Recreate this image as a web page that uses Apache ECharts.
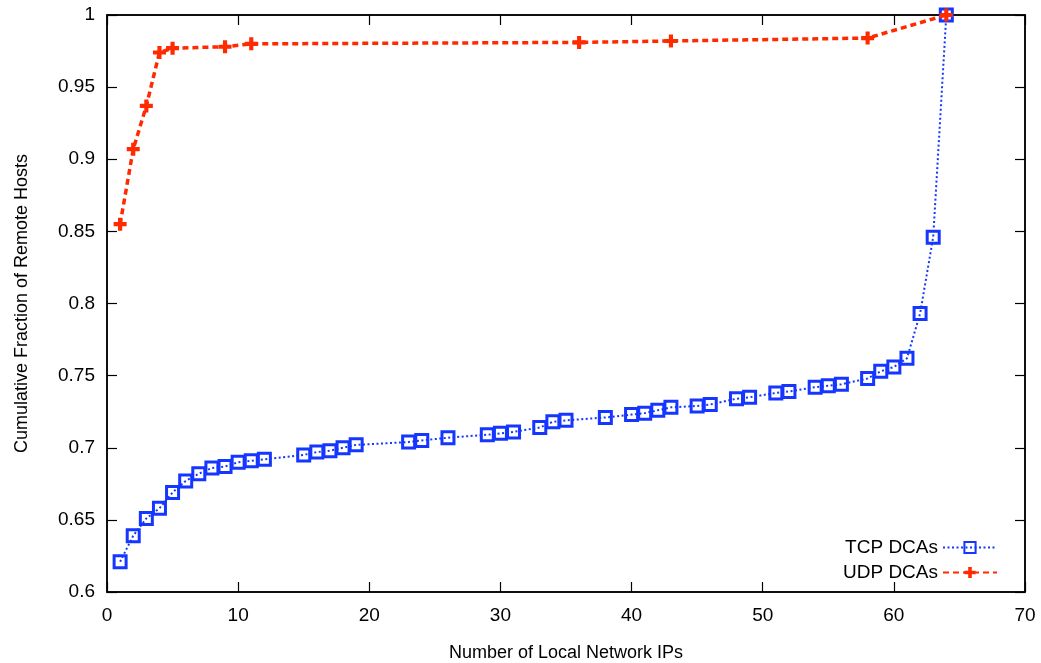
<!DOCTYPE html>
<html>
<head>
<meta charset="utf-8">
<script src="https://cdn.jsdelivr.net/npm/echarts@6/dist/echarts.min.js"></script>
<style>html,body{margin:0;padding:0;background:#fff}#chart{width:1041px;height:663px}</style>
</head>
<body>
<div id="chart"></div>
<script>
const tcpX = [1,2,3,4,5,6,7,8,9,10,11,12,15,16,17,18,19,23,24,26,29,30,31,33,34,35,38,40,41,42,43,45,46,48,49,51,52,54,55,56,58,59,60,61,62,63,64];
const tcpY = [0.621,0.639,0.651,0.658,0.669,0.677,0.682,0.686,0.687,0.690,0.691,0.692,0.695,0.697,0.698,0.700,0.702,0.704,0.705,0.707,0.709,0.710,0.711,0.714,0.718,0.719,0.721,0.723,0.724,0.726,0.728,0.729,0.730,0.734,0.735,0.738,0.739,0.742,0.743,0.744,0.748,0.753,0.756,0.762,0.793,0.846,1.0];
const udpX = [1,2,3,4,5,9,11,36,43,58,64];
const udpY = [0.855,0.907,0.937,0.974,0.977,0.978,0.980,0.981,0.982,0.984,1.0];
const seriesNames = ['TCP DCAs','UDP DCAs'];
const xTitle = 'Number of Local Network IPs';
const yTitle = 'Cumulative Fraction of Remote Hosts';

const font = 'Liberation Sans';
const zip = (xs, ys) => xs.map((x, i) => [x, ys[i]]);
const chart = echarts.init(document.getElementById('chart'), null, {renderer: 'canvas'});
const plus = 'path://M3.4,0H6.6V3.4H10V6.6H6.6V10H3.4V6.6H0V3.4H3.4Z';
const baseX = {type: 'value', min: 0, max: 70, interval: 10};
const baseY = {type: 'value', min: 0.6, max: 1, interval: 0.05};
chart.setOption({
  animation: false,
  textStyle: {fontFamily: font},
  grid: {left: 107, right: 16, top: 15, bottom: 71, containLabel: false, outerBoundsMode: 'none',
         show: true, borderColor: '#000', borderWidth: 1.5},
  legend: {
    data: seriesNames, orient: 'vertical', right: 38, top: 533, align: 'right',
    itemWidth: 54, itemHeight: 14, itemGap: 6,
    textStyle: {fontFamily: font, fontSize: 19, color: '#000'}
  },
  xAxis: [
    Object.assign({}, baseX, {
      position: 'bottom',
      name: xTitle, nameLocation: 'middle', nameGap: 52,
      nameTextStyle: {fontFamily: font, fontSize: 18, color: '#000'},
      axisLine: {show: true, onZero: false, lineStyle: {color: '#000', width: 1.5}},
      axisTick: {show: true, inside: true, length: 10, lineStyle: {color: '#000', width: 1.2}},
      axisLabel: {fontFamily: font, fontSize: 19, color: '#000', margin: 14},
      splitLine: {show: false}
    }),
    Object.assign({}, baseX, {
      position: 'top',
      axisLine: {show: true, onZero: false, lineStyle: {color: '#000', width: 1.5}},
      axisTick: {show: true, inside: true, length: 10, lineStyle: {color: '#000', width: 1.2}},
      axisLabel: {show: false}, splitLine: {show: false}
    })
  ],
  yAxis: [
    Object.assign({}, baseY, {
      position: 'left',
      name: yTitle, nameLocation: 'middle', nameGap: 76, nameRotate: 90,
      nameTextStyle: {fontFamily: font, fontSize: 18, color: '#000'},
      axisLine: {show: true, onZero: false, lineStyle: {color: '#000', width: 1.5}},
      axisTick: {show: true, inside: true, length: 10, lineStyle: {color: '#000', width: 1.2}},
      axisLabel: {fontFamily: font, fontSize: 19, color: '#000', margin: 12},
      splitLine: {show: false}
    }),
    Object.assign({}, baseY, {
      position: 'right',
      axisLine: {show: true, onZero: false, lineStyle: {color: '#000', width: 1.5}},
      axisTick: {show: true, inside: true, length: 10, lineStyle: {color: '#000', width: 1.2}},
      axisLabel: {show: false}, splitLine: {show: false}
    })
  ],
  series: [
    {
      name: seriesNames[0], type: 'line', data: zip(tcpX, tcpY),
      symbol: 'rect', symbolSize: 12,
      itemStyle: {color: 'rgba(255,255,255,0)', borderColor: '#1436ff', borderWidth: 3},
      lineStyle: {color: '#1436ff', width: 2, type: [2, 2.5]},
      z: 2
    },
    {
      name: seriesNames[1], type: 'line', data: zip(udpX, udpY),
      symbol: plus, symbolSize: 13,
      itemStyle: {color: '#ff2a00', borderWidth: 0},
      lineStyle: {color: '#ff2a00', width: 3.5, type: [6, 4]},
      z: 3
    }
  ]
});
</script>
</body>
</html>
